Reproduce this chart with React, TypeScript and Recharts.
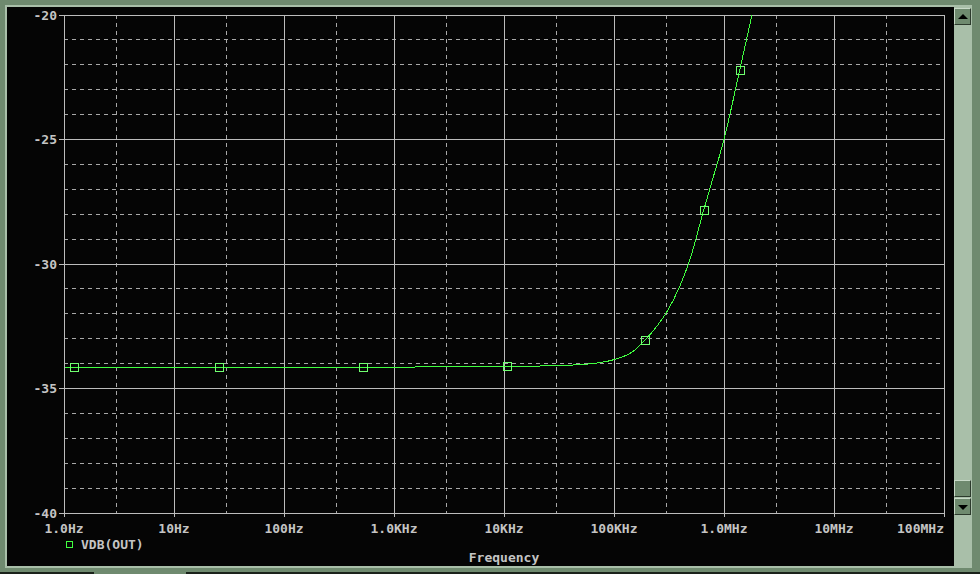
import React from "react";
import {
  ComposedChart,
  Line,
  Scatter,
  XAxis,
  YAxis,
  CartesianGrid,
  ReferenceLine,
} from "recharts";

// frequency sweep (Hz) and VDB(OUT)
const freqs = [
  1, 3, 10, 30, 100, 300, 1e3, 3e3, 1e4, 2e4, 5e4, 1e5, 1.5e5, 1.91e5, 2.5e5,
  3e5, 4e5, 5e5, 6.54e5, 8e5, 1e6, 1.389e6, 1.8e6, 2.5e6,
];
const vdb = [
  -34.14, -34.14, -34.14, -34.14, -34.14, -34.14, -34.14, -34.13, -34.12,
  -34.1, -34.04, -33.84, -33.5, -33.06, -32.45, -31.95, -30.85, -29.7, -27.83,
  -26.5, -25.0, -22.21, -19.98, -17.2,
];

// the little square markers PSpice puts on the trace
const markerFreqs = [1.23, 25.6, 521, 1.06e4, 1.91e5, 6.54e5, 1.389e6];
const markerVdb = [-34.14, -34.14, -34.14, -34.11, -33.06, -27.83, -22.21];

const xTicks = [1, 10, 100, 1e3, 1e4, 1e5, 1e6, 1e7, 1e8];
const xTickLabels = [
  "1.0Hz",
  "10Hz",
  "100Hz",
  "1.0KHz",
  "10KHz",
  "100KHz",
  "1.0MHz",
  "10MHz",
  "100MHz",
];
const xMinor = [3, 30, 300, 3e3, 3e4, 3e5, 3e6, 3e7];

const yTicks = [-40, -35, -30, -25, -20];
const yTickLabels = ["-40", "-35", "-30", "-25", "-20"];
const yMinor = [
  -39, -38, -37, -36, -34, -33, -32, -31, -29, -28, -27, -26, -24, -23, -22,
  -21,
];

const lineData = freqs.map((f, i) => ({ f, v: vdb[i] }));
const markerData = markerFreqs.map((f, i) => ({ f, v: markerVdb[i] }));

const FONT = "'DejaVu Sans Mono', monospace";
const FS = 13;
const TXT = "#c4c4c4";
const GREEN = "#40ff40";

const XTick = (props: any) => {
  const { x, y, payload } = props;
  const i = xTicks.indexOf(payload.value);
  const last = i === xTicks.length - 1;
  return (
    <text
      x={x}
      y={y}
      dy={16}
      textAnchor={last ? "end" : "middle"}
      fill={TXT}
      fontFamily={FONT}
      fontWeight="bold"
      fontSize={FS}
    >
      {xTickLabels[i]}
    </text>
  );
};

const YTick = (props: any) => {
  const { x, y, payload } = props;
  const i = yTicks.indexOf(payload.value);
  return (
    <text
      x={x}
      y={y}
      dy={4.7}
      textAnchor="end"
      fill={TXT}
      fontFamily={FONT}
      fontWeight="bold"
      fontSize={FS}
    >
      {yTickLabels[i]}
    </text>
  );
};

const Marker = (props: any) => {
  const cx = Math.round(props.cx);
  const cy = Math.round(props.cy);
  return (
    <rect
      x={cx - 3.5}
      y={cy - 3.5}
      width={8}
      height={8}
      fill="none"
      stroke="#70ff70"
      strokeWidth={1}
    />
  );
};

const FreqLabel = (props: any) => {
  const vb = props.viewBox;
  return (
    <text
      x={vb.x + vb.width / 2}
      y={vb.y + 49}
      textAnchor="middle"
      fill={TXT}
      fontFamily={FONT}
      fontWeight="bold"
      fontSize={FS}
    >
      Frequency
    </text>
  );
};

const btn: React.CSSProperties = {
  position: "absolute",
  left: 954,
  width: 17,
  height: 17,
  boxSizing: "border-box",
  background: "#6f8a6f",
  borderTop: "1px solid #c8dac8",
  borderLeft: "1px solid #c8dac8",
  borderRight: "1px solid #2c3a2c",
  borderBottom: "1px solid #2c3a2c",
};

export default function App() {
  return (
    <div
      style={{
        position: "fixed",
        left: 0,
        top: 0,
        width: 980,
        height: 574,
        background: "#6f8a6f",
        overflow: "hidden",
      }}
    >
      {/* window frame */}
      <div
        style={{
          position: "absolute",
          left: 5,
          top: 5,
          width: 967,
          height: 563,
          background: "#a9bfa9",
        }}
      />
      <div
        style={{
          position: "absolute",
          left: 7,
          top: 7,
          width: 947,
          height: 559,
          background: "#050505",
        }}
      />
      {/* scrollbar */}
      <div
        style={{
          position: "absolute",
          left: 954,
          top: 7,
          width: 17,
          height: 559,
          background: "#a9bfa9",
        }}
      />
      <div style={{ ...btn, top: 8 }}>
        <div
          style={{
            position: "absolute",
            left: 3,
            top: 5,
            width: 0,
            height: 0,
            borderLeft: "5px solid transparent",
            borderRight: "5px solid transparent",
            borderBottom: "5px solid #000",
          }}
        />
      </div>
      <div style={{ ...btn, top: 480 }} />
      <div style={{ ...btn, top: 498 }}>
        <div
          style={{
            position: "absolute",
            left: 3,
            top: 6,
            width: 0,
            height: 0,
            borderLeft: "5px solid transparent",
            borderRight: "5px solid transparent",
            borderTop: "5px solid #000",
          }}
        />
      </div>
      <div
        style={{
          position: "absolute",
          left: 0,
          top: 572,
          width: 94,
          height: 2,
          background: "#1a221a",
        }}
      />
      <div
        style={{
          position: "absolute",
          left: 186,
          top: 572,
          width: 794,
          height: 2,
          background: "#1a221a",
        }}
      />

      <div style={{ position: "absolute", left: 0, top: 0 }}>
        <ComposedChart
          width={980}
          height={574}
          margin={{ top: 15, right: 36, bottom: 0, left: 0 }}
          style={{ shapeRendering: "crispEdges" }}
        >
          <CartesianGrid
            stroke="#a8a8a8"
            strokeDasharray="4 4"
            verticalValues={xMinor}
            horizontalValues={yMinor}
          />
          <CartesianGrid
            stroke="#bcbcbc"
            verticalValues={xTicks}
            horizontalValues={yTicks}
          />
          <XAxis
            dataKey="f"
            type="number"
            scale="log"
            domain={[1, 1e8]}
            ticks={xTicks}
            allowDataOverflow
            height={61}
            tickSize={4}
            tickMargin={0}
            stroke="#bcbcbc"
            tick={<XTick />}
            interval={0}
            label={<FreqLabel />}
          />
          <YAxis
            dataKey="v"
            type="number"
            domain={[-40, -20]}
            ticks={yTicks}
            allowDataOverflow
            width={64}
            tickSize={5}
            tickMargin={2}
            stroke="#bcbcbc"
            tick={<YTick />}
            interval={0}
          />
          <ReferenceLine y={-20} stroke="#bcbcbc" />
          <ReferenceLine x={1e8} stroke="#bcbcbc" />
          <Line
            data={lineData}
            dataKey="v"
            type="monotone"
            stroke={GREEN}
            strokeWidth={1}
            dot={false}
            activeDot={false}
            isAnimationActive={false}
          />
          <Scatter
            data={markerData}
            dataKey="v"
            shape={<Marker />}
            isAnimationActive={false}
          />
        </ComposedChart>
      </div>

      {/* legend */}
      <svg
        width={200}
        height={30}
        style={{ position: "absolute", left: 0, top: 530 }}
      >
        <rect
          x={66.5}
          y={11.5}
          width={6}
          height={6}
          fill="none"
          stroke={GREEN}
          strokeWidth={1}
          shapeRendering="crispEdges"
        />
        <text
          x={81}
          y={18.7}
          fill={TXT}
          fontFamily={FONT}
          fontWeight="bold"
          fontSize={FS}
        >
          VDB(OUT)
        </text>
      </svg>
    </div>
  );
}
